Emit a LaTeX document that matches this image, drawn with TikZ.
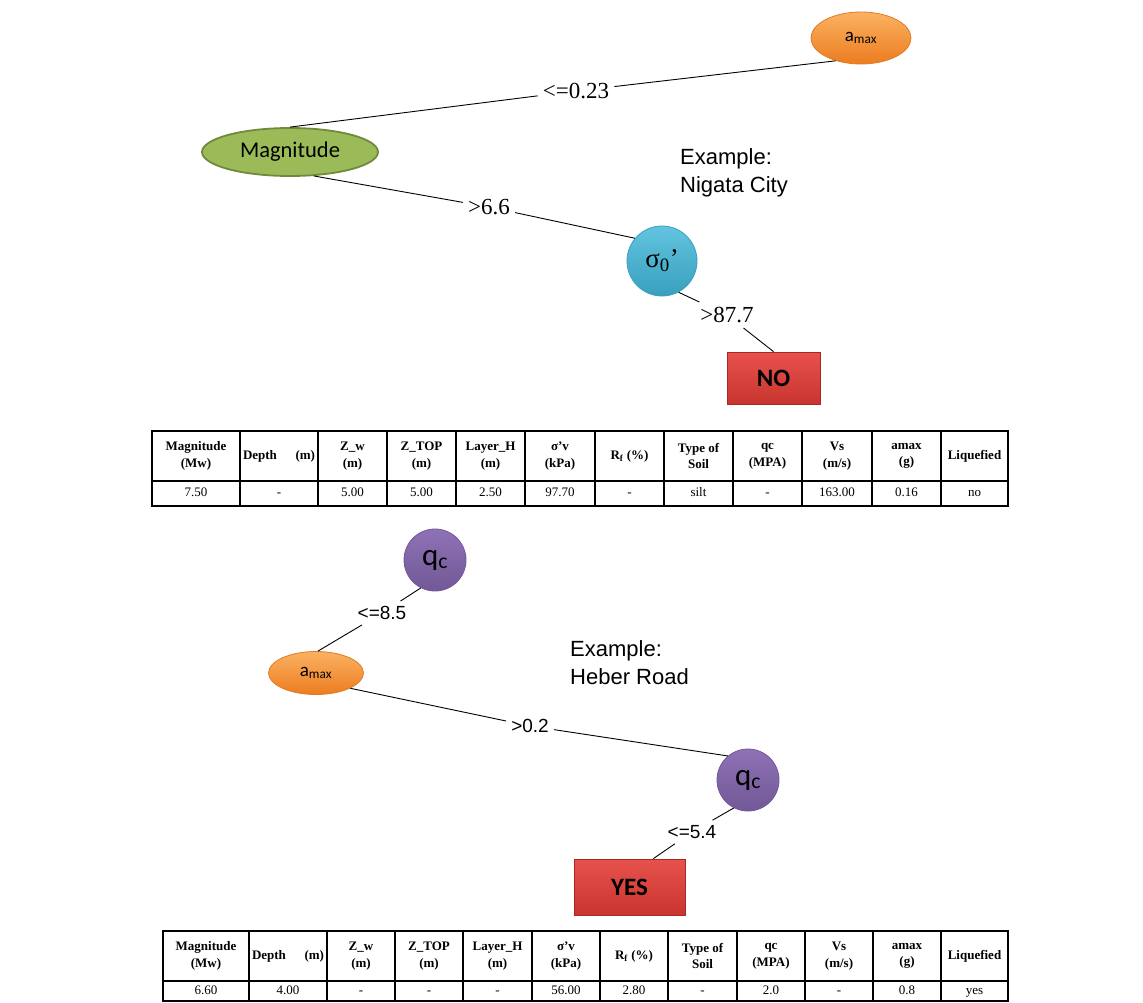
\documentclass[tikz,border=0pt]{standalone}
\usepackage{fontspec}
\setmainfont{Liberation Serif}
\newfontfamily\cali{Carlito}
\newfontfamily\arial{Liberation Sans}
\usetikzlibrary{shapes,positioning}

\definecolor{orangetop}{RGB}{251,178,98}
\definecolor{orangebot}{RGB}{236,124,32}
\definecolor{orangeline}{RGB}{226,122,36}
\definecolor{greenfill}{RGB}{155,187,89}
\definecolor{greenline}{RGB}{112,138,60}
\definecolor{cyantop}{RGB}{98,196,224}
\definecolor{cyanbot}{RGB}{56,160,190}
\definecolor{purpletop}{RGB}{142,114,182}
\definecolor{purplebot}{RGB}{114,88,150}
\definecolor{redtop}{RGB}{232,82,76}
\definecolor{redbot}{RGB}{200,52,46}
\definecolor{redline}{RGB}{168,40,36}

\begin{document}
\begin{tikzpicture}[x=1pt,y=-1pt,
  orangenode/.style={ellipse,inner sep=0pt,draw=orangeline,line width=0.8pt,top color=orangetop,bottom color=orangebot,font=\cali\fontsize{19}{22}\selectfont},
  greennode/.style={ellipse,inner sep=0pt,draw=greenline,line width=1.8pt,fill=greenfill,font=\cali\fontsize{22.5}{26}\selectfont},
  cyannode/.style={circle,inner sep=0pt,draw=cyanbot,line width=0.8pt,top color=cyantop,bottom color=cyanbot,font=\fontsize{27}{30}\selectfont},
  purplenode/.style={circle,inner sep=0pt,draw=purplebot,line width=0.8pt,top color=purpletop,bottom color=purplebot,font=\cali\fontsize{31}{34}\selectfont},
  leafbox/.style={rectangle,inner sep=0pt,draw=redline,line width=0.8pt,top color=redtop,bottom color=redbot,font=\cali\bfseries\fontsize{25}{30}\selectfont},
  branch/.style={font=\fontsize{23}{26}\selectfont,inner sep=5pt},
  branchsans/.style={font=\arial\fontsize{19}{22}\selectfont,inner sep=5pt},
  note/.style={font=\arial\fontsize{22}{28}\selectfont,align=left,anchor=north west,inner sep=0pt},
  link/.style={draw,line width=0.9pt},
  tabline/.style={line width=1.8pt},
  headcell/.style={font=\bfseries\fontsize{13}{16.5}\selectfont,align=center,inner sep=0pt},
  valcell/.style={font=\fontsize{13}{15}\selectfont,inner sep=0pt,text height=9pt,text depth=3pt}]
\useasboundingbox (0,0) rectangle (1143,1002);

% first tree: Nigata City
\node[orangenode,minimum width=100pt,minimum height=52pt] (amaxA) at (861,38) {a\textsubscript{max}};
\node[greennode,minimum width=176pt,minimum height=48pt] (magn) at (290,152) {Magnitude};
\node[cyannode,minimum size=70pt] (sig) at (662,261) {σ\textsubscript{0}’};
\node[leafbox,minimum width=93pt,minimum height=52pt] (no) at (773.5,378) {NO};

\node[branch] (le023) at (576,91) {<=0.23};
\node[branch] (gt66) at (489,207) {>6.6};
\node[branch] (gt877) at (727,315) {>87.7};

\draw[link] (amaxA.222) -- (le023) -- (magn.north);
\draw[link] (magn.-45) -- (gt66) -- (sig.140);
\draw[link] (sig.-62) -- (gt877) -- (no.north);

\node[note] (exA) at (680,148) {Example:\\Nigata City};

% table of the first example
\foreach \xa/\xb/\hd/\vl [count=\i] in {
  152/240/{Magnitude\\(Mw)}/7.50,
  240/318/{\makebox[72pt]{Depth\hfill(m)}}/-,
  318/387/{Z\_w\\(m)}/5.00,
  387/456/{Z\_TOP\\(m)}/5.00,
  456/525/{Layer\_H\\(m)}/2.50,
  525/595/{σ'v\\(kPa)}/97.70,
  595/664/{R\textsubscript{f} (\%)}/-,
  664/733/{Type of\\Soil}/silt,
  733/802/{qc\\(MPA)}/-,
  802/872/{Vs\\(m/s)}/163.00,
  872/941/{amax\\(g)}/0.16,
  941/1008/{Liquefied}/no}{
  \draw[tabline] (\xa,431) rectangle (\xb,481);
  \draw[tabline] (\xa,481) rectangle (\xb,506);
  \node[headcell] (hA\i) at ({(\xa+\xb)/2},456) {\hd};
  \node[valcell] (vA\i) at ({(\xa+\xb)/2},493.5) {\vl};
}

% second tree: Heber Road
\node[purplenode,minimum size=62pt] (qcA) at (435,560) {q\textsubscript{c}};
\node[orangenode,minimum width=95pt,minimum height=43pt] (amaxB) at (316,673) {a\textsubscript{max}};
\node[purplenode,minimum size=62pt] (qcB) at (748,780) {q\textsubscript{c}};
\node[leafbox,minimum width=111pt,minimum height=56pt] (yes) at (629.5,887) {YES};

\node[branchsans] (le85) at (382,613) {<=8.5};
\node[branchsans] (gt02) at (530,726) {>0.2};
\node[branchsans] (le54) at (692,832) {<=5.4};

\draw[link] (qcA.243) -- (le85) -- (amaxB.85);
\draw[link] (amaxB.-24) -- (gt02) -- (qcB.130);
\draw[link] (qcB.243) -- (le54) -- (yes.50);

\node[note] (exB) at (570,640) {Example:\\Heber Road};

% table of the second example
\foreach \xa/\xb/\hd/\vl [count=\i] in {
  163/249/{Magnitude\\(Mw)}/6.60,
  249/327/{\makebox[72pt]{Depth\hfill(m)}}/4.00,
  327/395/{Z\_w\\(m)}/-,
  395/463/{Z\_TOP\\(m)}/-,
  463/532/{Layer\_H\\(m)}/-,
  532/600/{σ'v\\(kPa)}/56.00,
  600/668/{R\textsubscript{f} (\%)}/2.80,
  668/737/{Type of\\Soil}/-,
  737/805/{qc\\(MPA)}/2.0,
  805/873/{Vs\\(m/s)}/-,
  873/941/{amax\\(g)}/0.8,
  941/1008/{Liquefied}/yes}{
  \draw[tabline] (\xa,931) rectangle (\xb,981);
  \draw[tabline] (\xa,981) rectangle (\xb,1001);
  \node[headcell] (hB\i) at ({(\xa+\xb)/2},956) {\hd};
  \node[valcell] (vB\i) at ({(\xa+\xb)/2},991.5) {\vl};
}
\end{tikzpicture}
\end{document}
